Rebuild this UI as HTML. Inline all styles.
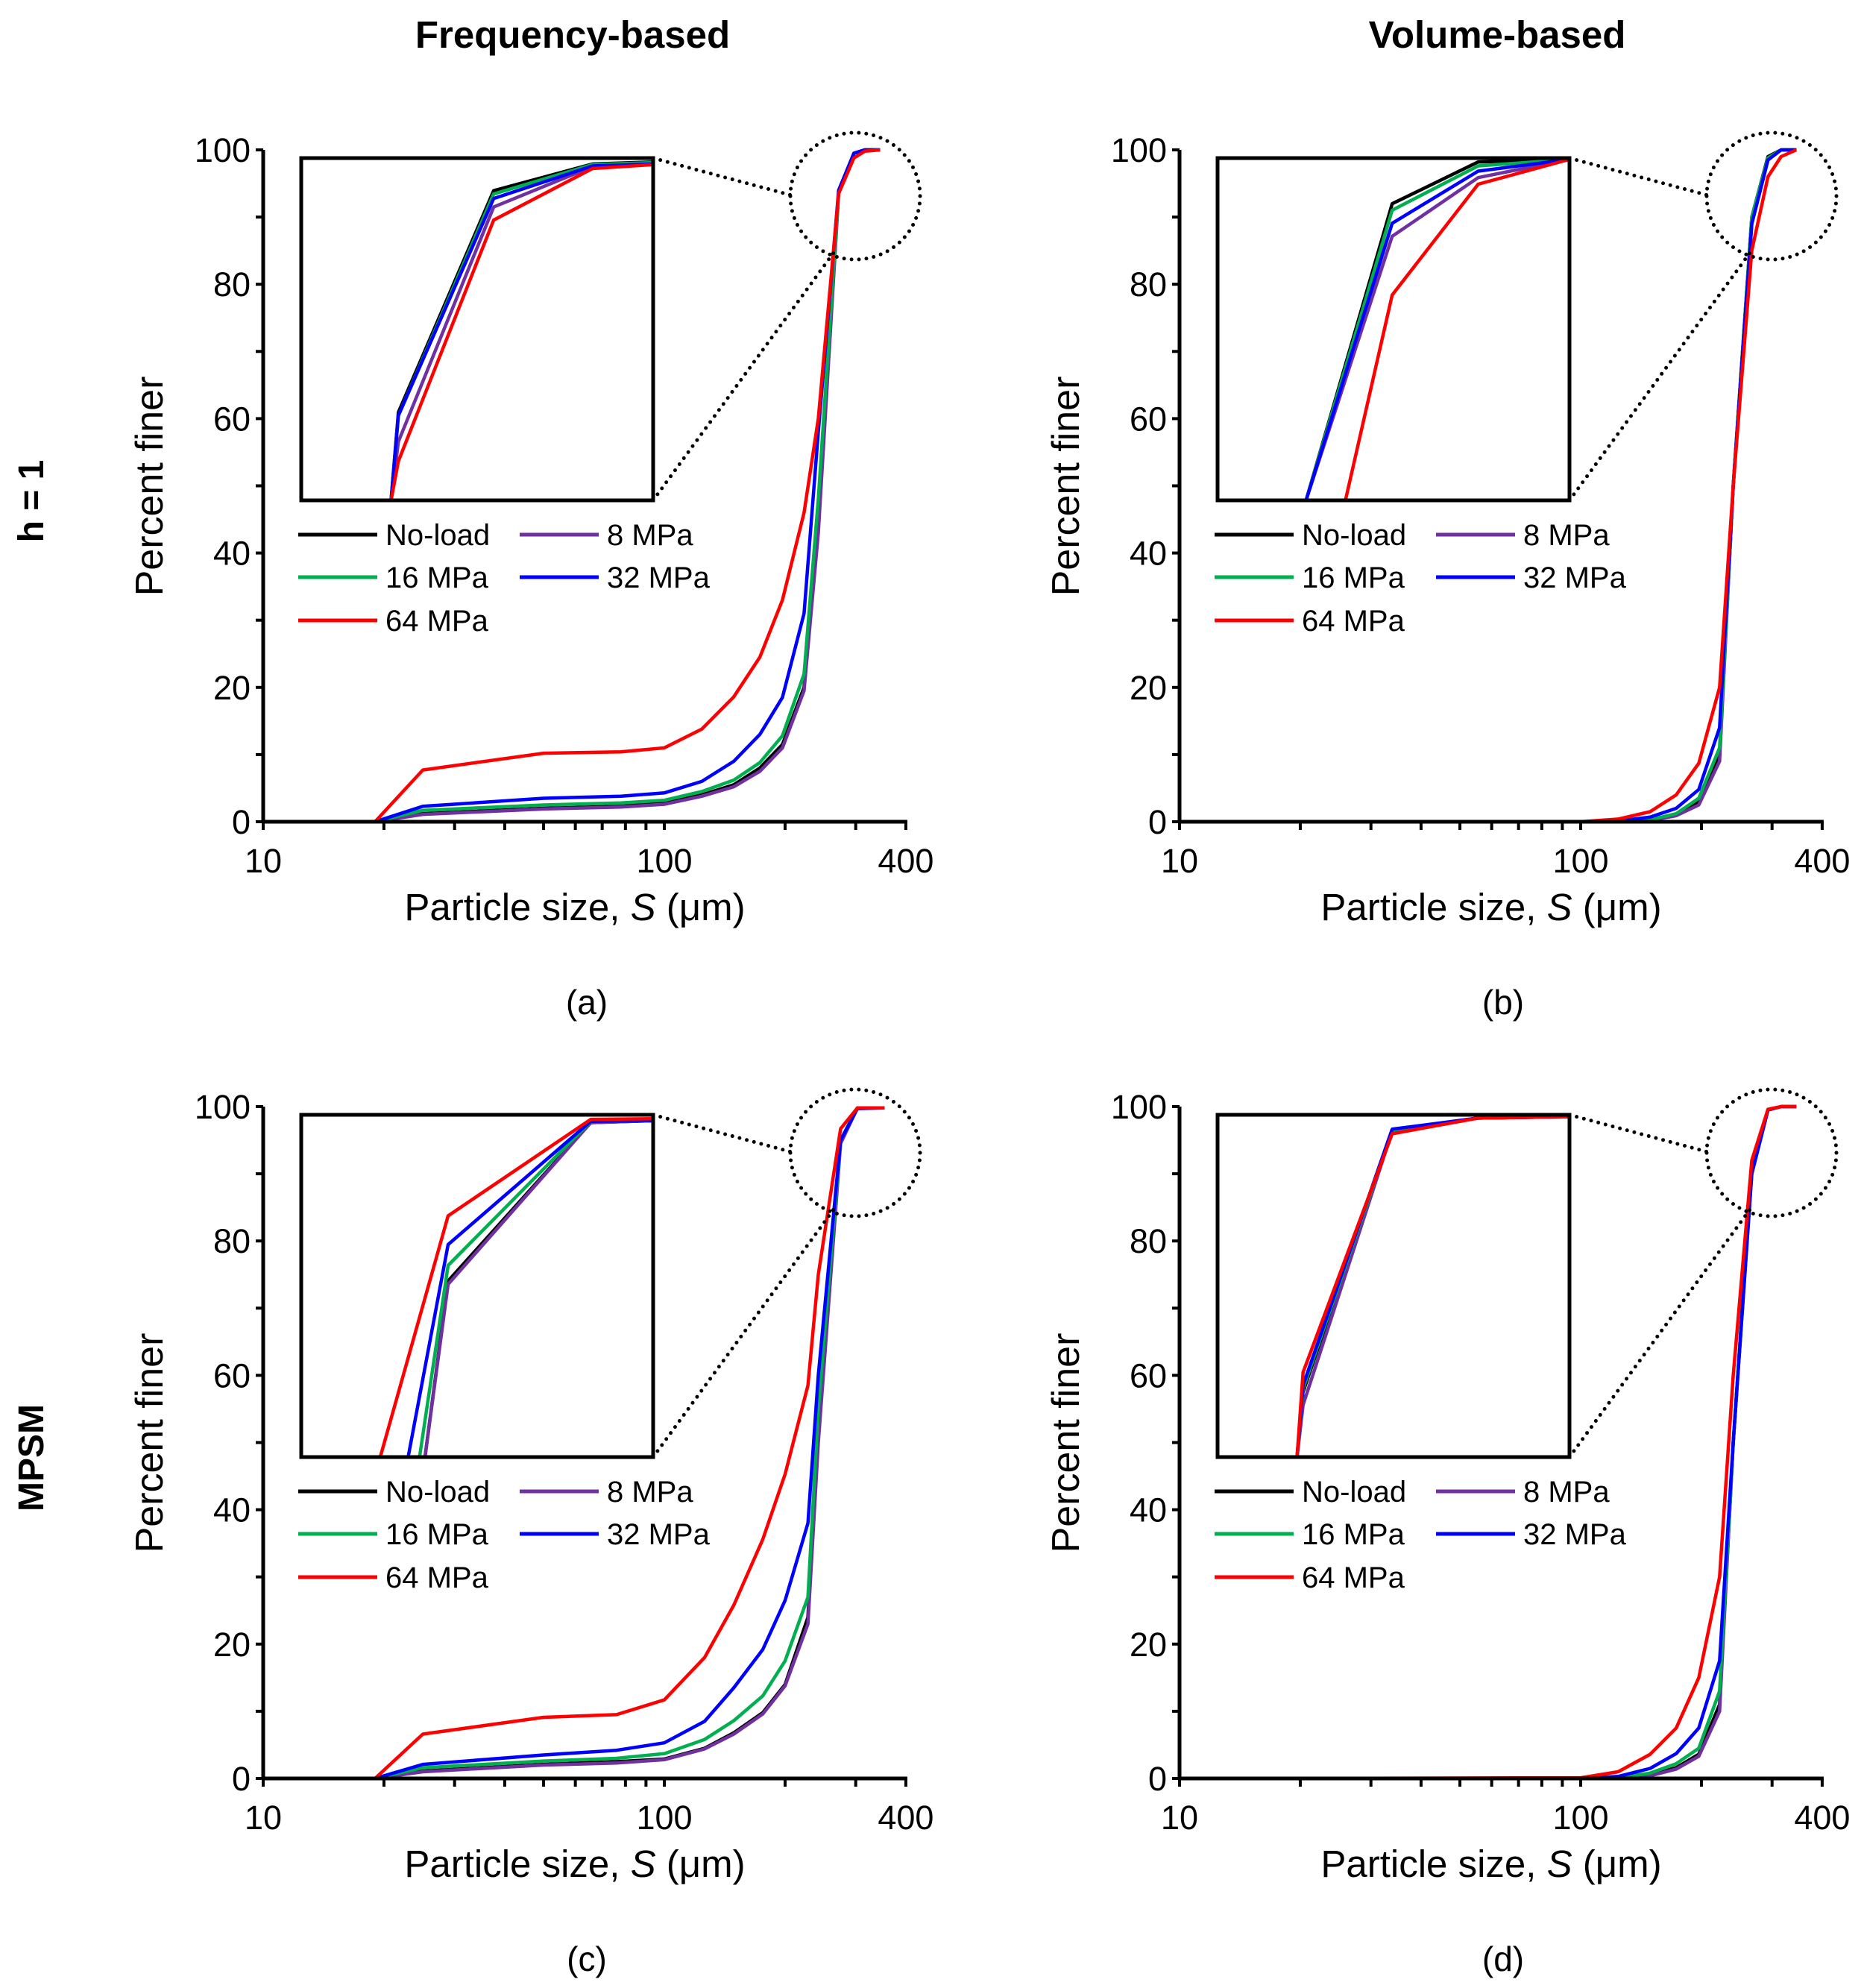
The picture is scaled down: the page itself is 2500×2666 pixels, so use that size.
<!DOCTYPE html>
<html><head><meta charset="utf-8"><style>
html,body{margin:0;padding:0;background:#fff;}
svg{display:block;font-family:"Liberation Sans",Arial,sans-serif;}
</style></head><body>
<svg id="fig" width="2500" height="2666" viewBox="0 0 2500 2666" xmlns="http://www.w3.org/2000/svg">
<text x="768" y="64" font-size="51" font-weight="bold" text-anchor="middle">Frequency-based</text>
<text x="2008" y="64" font-size="51" font-weight="bold" text-anchor="middle">Volume-based</text>
<text transform="translate(58,672) rotate(-90)" font-size="48" font-weight="bold" text-anchor="middle">h = 1</text>
<text transform="translate(58,1955) rotate(-90)" font-size="48" font-weight="bold" text-anchor="middle">MPSM</text>
</svg>
<script>
// ---- data ----
const seriesNames = ["No-load","8 MPa","16 MPa","32 MPa","64 MPa"];
const seriesColors = ["#000000","#7030A0","#00B050","#0000FF","#FF0000"];
const yTicks = [0,20,40,60,80,100];
const xTickLabels = [10,100,400];

// (a) frequency, h=1
const aX = [19,25,50,78,100,124,149,173,197,223,242,272,297,316,345];
const aBlack  = [0,1.2,2.0,2.3,2.8,4.0,5.5,8.0,11.5,20,45,93.8,99.5,100,100];
const aPurple = [0,1.1,1.9,2.2,2.6,3.8,5.2,7.5,11.0,19.5,43,93.5,99.5,100,100];
const aGreen  = [0,1.7,2.5,2.8,3.2,4.5,6.2,8.8,12.8,22,48,93.8,99.5,100,100];
const aBlue   = [0,2.3,3.5,3.8,4.3,6.0,9.0,13,18.5,31,58,94,99.5,100,100];
const aRed    = [0,7.7,10.2,10.4,11,13.8,18.6,24.5,33,46,60,93.5,98.8,99.8,100];
// (b) volume, h=1
const bX = [19,100,124,149,173,197,222,240,267,293,316,345];
const bBlack  = [0,0,0,0.3,1.0,3.0,10,50,90,99,100,100];
const bPurple = [0,0,0,0.2,0.9,2.5,9,50,89,98.5,100,100];
const bGreen  = [0,0,0,0.3,1.2,3.5,11,50,90,98.8,100,100];
const bBlue   = [0,0,0.1,0.7,2.0,4.8,14,50,89,98.5,100,100];
const bRed    = [0,0,0.4,1.5,4.0,8.7,20,50,85,96,99,100];
// (c) frequency, MPSM
const cX = [19,25,50,76,100,126,149,176,200,228,242,275,303,354];
const cBlack  = [0,1.1,2.1,2.5,2.9,4.5,6.8,9.8,14,24,52,95,99.8,99.8];
const cPurple = [0,1.0,2.0,2.3,2.8,4.4,6.6,9.6,13.8,23,50,94.5,99.8,99.8];
const cGreen  = [0,1.6,2.6,3.0,3.7,5.8,8.6,12.3,17.5,27,55,95,99.8,99.8];
const cBlue   = [0,2.1,3.5,4.2,5.3,8.5,13.5,19.2,26.5,38,60,95,99.7,99.8];
const cRed    = [0,6.6,9.1,9.5,11.7,18,25.8,35.6,45.3,58.5,75,96.7,99.8,99.8];
// (d) volume, MPSM
const dX = [19,100,124,149,173,197,222,240,267,293,316,345];
const dBlack  = [0,0,0,0.5,1.6,3.6,11,50,91,99.5,100,100];
const dPurple = [0,0,0,0.4,1.4,3.3,10,50,90,99.5,100,100];
const dGreen  = [0,0,0.1,0.8,2.2,4.5,13,50,91,99.5,100,100];
const dBlue   = [0,0,0.3,1.5,3.7,7.5,17.5,50,90,99.5,100,100];
const dRed    = [0,0.1,1.0,3.6,7.5,15,30,60,92,99.6,100,100];

// insets (zoomed top region)
const aInX = [247,248.7,272,298.5,316];
const aInBlack  = [48,61.5,95.5,99.6,99.9];
const aInPurple = [48,57,93,99.2,99.8];
const aInGreen  = [48,61,95,99.5,99.8];
const aInBlue   = [48,61,94.3,99.3,99.6];
const aInRed    = [48,54,91,98.9,99.5];
const bInX = [246.7,267.5,290,316];
const bInXRed = [256,267.5,290,316];
const bInBlack  = [48,93.5,99.9,100.3];
const bInPurple = [48,88.5,97.5,100.3];
const bInGreen  = [48,92.5,99.3,100.3];
const bInBlue   = [48,90.5,98.5,100.3];
const bInRed    = [48,79.5,96.5,100.3];
const cInXBlack = [255,260.6,298,316];
const cInXGreen = [253.7,260.6,298,316];
const cInXBlue  = [251,260.6,298,316];
const cInXRed   = [244.5,260.6,298,316];
const cInBlack  = [48,75,99.3,99.6];
const cInPurple = [48,74.5,99.3,99.6];
const cInGreen  = [48,77.4,99.5,99.6];
const cInBlue   = [48,80.6,99.5,99.6];
const cInRed    = [48,85,99.8,99.9];
const dInX = [244.6,246,267.5,290,316];
const dInBlack  = [48,58,98.1,100,100.2];
const dInPurple = [48,56,98.0,100,100.2];
const dInGreen  = [48,58.5,98.1,100,100.2];
const dInBlue   = [48,59,98.3,100,100.2];
const dInRed    = [48,61,97.6,100,100.2];

// ---- drawing ----
const NS = "http://www.w3.org/2000/svg";
const svg = document.getElementById("fig");
function mk(tag, attrs, parent){ const e=document.createElementNS(NS,tag); for(const k in attrs) e.setAttribute(k,attrs[k]); parent.appendChild(e); return e; }

const X0=353, DEC=538, Y0=1102, YS=9.01;
function px(v){ return X0 + (Math.log10(v)-1)*DEC; }
function py(v){ return Y0 - v*YS; }
const IX0=404, IX1=876, IY0=212, IY1=671, IXMIN=227, IXMAX=316, IYMIN=48, IYMAX=100.5;
function ipx(v){ return IX0 + (Math.log10(v)-Math.log10(IXMIN))/(Math.log10(IXMAX)-Math.log10(IXMIN))*(IX1-IX0); }
function ipy(v){ return IY1 - (v-IYMIN)/(IYMAX-IYMIN)*(IY1-IY0); }

const panels = [
 {id:"a", dx:0, dy:0, letter:"(a)", xs:[aX,aX,aX,aX,aX], ys:[aBlack,aPurple,aGreen,aBlue,aRed],
  ixs:[aInX,aInX,aInX,aInX,aInX], iys:[aInBlack,aInPurple,aInGreen,aInBlue,aInRed]},
 {id:"b", dx:1229, dy:0, letter:"(b)", xs:[bX,bX,bX,bX,bX], ys:[bBlack,bPurple,bGreen,bBlue,bRed],
  ixs:[bInX,bInX,bInX,bInX,bInXRed], iys:[bInBlack,bInPurple,bInGreen,bInBlue,bInRed]},
 {id:"c", dx:0, dy:1283, letter:"(c)", xs:[cX,cX,cX,cX,cX], ys:[cBlack,cPurple,cGreen,cBlue,cRed],
  ixs:[cInXBlack,cInXBlack,cInXGreen,cInXBlue,cInXRed], iys:[cInBlack,cInPurple,cInGreen,cInBlue,cInRed]},
 {id:"d", dx:1229, dy:1283, letter:"(d)", xs:[dX,dX,dX,dX,dX], ys:[dBlack,dPurple,dGreen,dBlue,dRed],
  ixs:[dInX,dInX,dInX,dInX,dInX], iys:[dInBlack,dInPurple,dInGreen,dInBlue,dInRed]}
];

panels.forEach(p=>{
  const g = mk("g",{transform:`translate(${p.dx},${p.dy})`},svg);
  
  
  const defs = mk("defs",{},g);
  const cp = mk("clipPath",{id:"clip"+p.id},defs);
  mk("rect",{x:IX0,y:IY0,width:IX1-IX0,height:IY1-IY0},cp);

  for(let s=0;s<5;s++){
    const pts = p.xs[s].map((x,i)=>px(x).toFixed(1)+","+py(p.ys[s][i]).toFixed(1)).join(" ");
    const l = mk("polyline",{points:pts,fill:"none",stroke:seriesColors[s],"stroke-width":4.5,"stroke-linejoin":"round"},g);
    
    
  }
  const ya = mk("line",{x1:X0,y1:py(100),x2:X0,y2:Y0+2,stroke:"#000","stroke-width":5},g);
   
  const xa = mk("line",{x1:X0-2,y1:Y0,x2:px(400)+2,y2:Y0,stroke:"#000","stroke-width":5},g);
   
  for(let v=0; v<=100; v+=10){
    mk("line",{x1:X0-10,y1:py(v),x2:X0,y2:py(v),stroke:"#000","stroke-width":4},g);
  }
  yTicks.forEach(v=>{
    const t = mk("text",{x:336,y:py(v)+16,"font-size":45,"text-anchor":"end"},g);
    t.textContent = v;
     
  });
  const minor=[10,20,30,40,50,60,70,80,90,100,200,300,400];
  minor.forEach(v=>{ mk("line",{x1:px(v),y1:Y0,x2:px(v),y2:Y0+11,stroke:"#000","stroke-width":4},g); });
  xTickLabels.forEach(v=>{
    const t = mk("text",{x:px(v),y:1170,"font-size":45,"text-anchor":"middle"},g);
    t.textContent = v;
     
  });
  const xt = mk("text",{x:771,y:1234,"font-size":51,"text-anchor":"middle"},g);
  xt.innerHTML = 'Particle size, <tspan font-style="italic">S</tspan> (μm)';
   
  const yt = mk("text",{transform:"translate(218,652) rotate(-90)","font-size":52,"text-anchor":"middle"},g);
  yt.textContent = "Percent finer";
   
  const lt = mk("text",{x:787,y:1360,"font-size":46,"text-anchor":"middle"},g);
  lt.textContent = p.letter;
   

  mk("ellipse",{cx:1147,cy:263,rx:87,ry:85,fill:"none",stroke:"#000","stroke-width":5,"stroke-dasharray":"0 10","stroke-linecap":"round"},g);
  mk("line",{x1:IX1,y1:IY0,x2:1062,y2:262,stroke:"#000","stroke-width":5,"stroke-dasharray":"0 10","stroke-linecap":"round"},g);
  mk("line",{x1:IX1,y1:IY1,x2:1118,y2:339,stroke:"#000","stroke-width":5,"stroke-dasharray":"0 10","stroke-linecap":"round"},g);

  const ig = mk("g",{"clip-path":`url(#clip${p.id})`},g);
   
  mk("rect",{x:IX0,y:IY0,width:IX1-IX0,height:IY1-IY0,fill:"#fff"},ig);
  for(let s=0;s<5;s++){
    const pts = p.ixs[s].map((x,i)=>ipx(x).toFixed(1)+","+ipy(p.iys[s][i]).toFixed(1)).join(" ");
    const l = mk("polyline",{points:pts,fill:"none",stroke:seriesColors[s],"stroke-width":4.5,"stroke-linejoin":"round"},ig);
    
    
  }
  const fr = mk("rect",{x:IX0,y:IY0,width:IX1-IX0,height:IY1-IY0,fill:"none",stroke:"#000","stroke-width":5},g);
   

  const lg = mk("g",{},g);
   
  const pos = [[400,717],[697,717],[400,774],[697,774],[400,832]];
  [0,1,2,3,4].forEach((s,i)=>{
    const [lx,ly]=pos[i];
    mk("line",{x1:lx,y1:ly,x2:lx+106,y2:ly,stroke:seriesColors[s],"stroke-width":5},lg);
    const t = mk("text",{x:lx+117,y:ly+14,"font-size":40},lg);
    t.textContent = seriesNames[s];
     
  });
});
</script>
</body></html>
